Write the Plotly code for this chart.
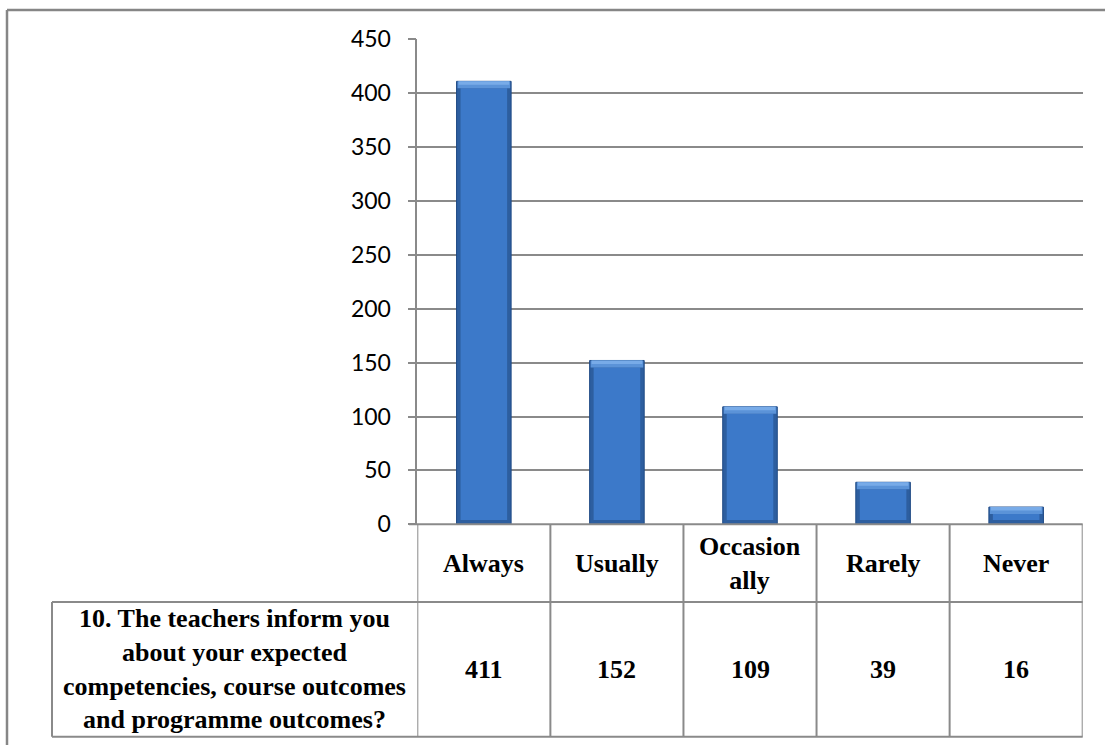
import plotly.graph_objects as go

# ---- data ----
categories = ["Always", "Usually", "Occasionally", "Rarely", "Never"]
category_labels = ["Always", "Usually", "Occasion<br>ally", "Rarely", "Never"]
values = [411, 152, 109, 39, 16]
question = "10. The teachers inform you<br>about your expected<br>competencies, course outcomes<br>and programme outcomes?"
y_ticks = [0, 50, 100, 150, 200, 250, 300, 350, 400, 450]

W, H = 1105, 745
def px(x):
    return x / W
def py(y):
    return 1 - y / H

GRID = "#8a8a8a"
PLOT_L, PLOT_R = 417.3, 1082.7
PLOT_T, PLOT_B = 39.3, 524.3
ROW1_B = 602.0
ROW2_B = 736.7
LABEL_L = 52.0

fig = go.Figure()

BAR_W = 0.41
TOP_BEVEL = 6.5
BOT_BEVEL = 4.0
# outer bar (dark edges)
fig.add_trace(go.Bar(
    x=categories, y=values, width=BAR_W,
    marker=dict(color="#2d5e9f", line=dict(color="#1f4a85", width=1)),
    hoverinfo="x+y", showlegend=False,
))
# main face
fig.add_trace(go.Bar(
    x=categories, y=[max(v - TOP_BEVEL - BOT_BEVEL, 0) for v in values],
    base=[BOT_BEVEL] * len(values),
    width=BAR_W - 0.06,
    marker=dict(color="#3c79c9", line=dict(width=0)),
    hoverinfo="skip", showlegend=False,
))
# top bevel highlight (two bands)
fig.add_trace(go.Bar(
    x=categories, y=[TOP_BEVEL] * len(values), base=[v - TOP_BEVEL for v in values],
    width=BAR_W - 0.015,
    marker=dict(color="#5b93d8", line=dict(width=0)),
    hoverinfo="skip", showlegend=False,
))
fig.add_trace(go.Bar(
    x=categories, y=[TOP_BEVEL / 2] * len(values), base=[v - TOP_BEVEL / 2 for v in values],
    width=BAR_W - 0.03,
    marker=dict(color="#78abe8", line=dict(width=0)),
    hoverinfo="skip", showlegend=False,
))

fig.update_layout(
    width=W, height=H, autosize=False,
    margin=dict(l=0, r=0, t=0, b=0, pad=0, autoexpand=False),
    paper_bgcolor="white", plot_bgcolor="white",
    barmode="overlay",
    xaxis=dict(
        domain=[px(PLOT_L), px(PLOT_R)],
        type="category", categoryorder="array", categoryarray=categories,
        range=[-0.5, len(categories) - 0.5],
        showticklabels=False, showgrid=False, zeroline=False, showline=False,
        ticks="", fixedrange=True, automargin=False,
    ),
    yaxis=dict(
        domain=[py(PLOT_B), py(PLOT_T)],
        range=[0, 450], tickvals=y_ticks,
        showgrid=True, gridcolor=GRID, gridwidth=1.5,
        zeroline=False,
        showline=True, linecolor=GRID, linewidth=1.5,
        ticks="outside", ticklen=8, tickcolor=GRID, tickwidth=1.5,
        ticklabelstandoff=12,
        tickfont=dict(family="Lato, Open Sans, sans-serif", size=23, color="black"),
        fixedrange=True, automargin=False,
    ),
    font=dict(family="Liberation Serif, Times New Roman, serif"),
)

shapes = []
line = dict(color=GRID, width=2)
# outer chart border (top & left)
shapes.append(dict(type="line", xref="paper", yref="paper", x0=px(7), x1=1, y0=py(10), y1=py(10),
                   line=dict(color="#868686", width=2.5)))
shapes.append(dict(type="line", xref="paper", yref="paper", x0=px(7), x1=px(7), y0=py(10), y1=0,
                   line=dict(color="#868686", width=2.5)))
# baseline (0) / table top
shapes.append(dict(type="line", xref="paper", yref="paper", x0=px(409), x1=px(PLOT_R), y0=py(PLOT_B), y1=py(PLOT_B), line=line))
# row separator and bottom
for yy in (ROW1_B, ROW2_B):
    shapes.append(dict(type="line", xref="paper", yref="paper", x0=px(LABEL_L), x1=px(PLOT_R), y0=py(yy), y1=py(yy), line=line))
# label cell left border
shapes.append(dict(type="line", xref="paper", yref="paper", x0=px(LABEL_L), x1=px(LABEL_L), y0=py(ROW1_B), y1=py(ROW2_B), line=line))
# vertical cell borders at category boundaries
for i in range(len(categories) + 1):
    shapes.append(dict(type="line", xref="x", yref="paper", x0=i - 0.5, x1=i - 0.5,
                       y0=py(PLOT_B), y1=py(ROW2_B), line=line))
fig.update_layout(shapes=shapes)

annotations = []
tfont = dict(family="Liberation Serif, Times New Roman, serif", size=26, color="black")
for c, lab, v in zip(categories, category_labels, values):
    annotations.append(dict(x=c, xref="x", y=py((PLOT_B + ROW1_B) / 2), yref="paper",
                            text="<b>%s</b>" % lab, showarrow=False, font=tfont,
                            xanchor="center", yanchor="middle"))
    annotations.append(dict(x=c, xref="x", y=py((ROW1_B + ROW2_B) / 2), yref="paper",
                            text="<b>%d</b>" % v, showarrow=False, font=tfont,
                            xanchor="center", yanchor="middle"))
annotations.append(dict(x=px((LABEL_L + PLOT_L) / 2), xref="paper", y=py((ROW1_B + ROW2_B) / 2), yref="paper",
                        text="<b>%s</b>" % question, showarrow=False, font=tfont,
                        xanchor="center", yanchor="middle", align="center"))
fig.update_layout(annotations=annotations)

fig.write_html(
    "out.html",
    config={"displayModeBar": False},
    post_script="document.body.style.margin='0';document.body.style.overflow='hidden';",
)
